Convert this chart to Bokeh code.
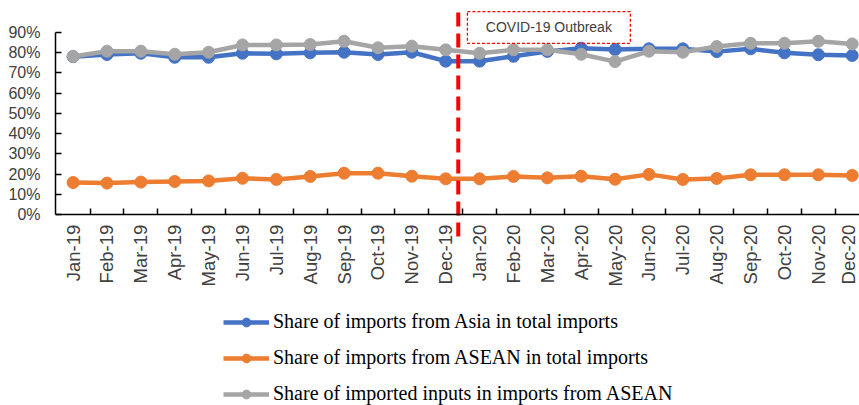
from bokeh.plotting import figure
from bokeh.models import (ColumnDataSource, Range1d, FixedTicker, NumeralTickFormatter,
                          Legend, LegendItem, Label)
from bokeh.embed import file_html
from bokeh.resources import INLINE

months = ["Jan-19", "Feb-19", "Mar-19", "Apr-19", "May-19", "Jun-19", "Jul-19", "Aug-19",
          "Sep-19", "Oct-19", "Nov-19", "Dec-19", "Jan-20", "Feb-20", "Mar-20", "Apr-20",
          "May-20", "Jun-20", "Jul-20", "Aug-20", "Sep-20", "Oct-20", "Nov-20", "Dec-20"]

asia_share = [0.779, 0.790, 0.796, 0.776, 0.776, 0.796, 0.793, 0.798,
              0.801, 0.790, 0.801, 0.757, 0.757, 0.781, 0.805, 0.821,
              0.814, 0.818, 0.818, 0.804, 0.818, 0.798, 0.789, 0.785]

asean_share = [0.159, 0.156, 0.161, 0.164, 0.167, 0.180, 0.174, 0.189,
               0.205, 0.205, 0.190, 0.177, 0.177, 0.189, 0.182, 0.190,
               0.175, 0.199, 0.174, 0.179, 0.197, 0.197, 0.197, 0.194]

inputs_share = [0.780, 0.806, 0.806, 0.791, 0.801, 0.837, 0.837, 0.839,
                0.855, 0.823, 0.831, 0.813, 0.796, 0.813, 0.813, 0.791,
                0.755, 0.806, 0.801, 0.829, 0.845, 0.845, 0.855, 0.842]

y_ticks = [0.0, 0.1, 0.2, 0.3, 0.4, 0.5, 0.6, 0.7, 0.8, 0.9]

# break between Dec-19 and Jan-20 marking the outbreak
outbreak_x = 11.37
outbreak_label = "COVID-19 Outbreak"

idx = list(range(len(months)))
src = ColumnDataSource(dict(x=idx, asia=asia_share, asean=asean_share, inputs=inputs_share))

p = figure(width=859, height=405, output_backend="svg", toolbar_location=None,
           x_range=Range1d(-0.52, 23.215), y_range=Range1d(-0.94, 1.056),
           min_border_left=55, min_border_right=0, min_border_top=0, min_border_bottom=0)
p.outline_line_color = None
p.background_fill_color = "white"
p.border_fill_color = "white"
p.grid.visible = False

# x axis sits at 0% with category labels centred and ticks at band edges
xa = p.xaxis[0]
xa.fixed_location = 0
xa.bounds = (-0.52, 23.215)
xa.ticker = FixedTicker(ticks=idx, minor_ticks=[i + 0.5 for i in idx])
xa.major_label_overrides = {i: m for i, m in enumerate(months)}
xa.major_label_orientation = 3.14159265 / 2
xa.major_label_standoff = 10
xa.major_tick_in = 0
xa.major_tick_out = 0
xa.minor_tick_in = 6
xa.minor_tick_out = 0
xa.minor_tick_line_color = "black"
xa.minor_tick_line_width = 1.5
xa.axis_line_color = "black"
xa.axis_line_width = 1.5
xa.major_label_text_font = "Liberation Sans"
xa.major_label_text_font_size = "18.5px"
xa.major_label_text_color = "#404040"

ya = p.yaxis[0]
ya.bounds = (0, 0.9)
ya.ticker = FixedTicker(ticks=y_ticks)
ya.formatter = NumeralTickFormatter(format="0%")
ya.major_tick_in = 6
ya.major_tick_out = 0
ya.minor_tick_line_color = None
ya.major_tick_line_color = "black"
ya.major_tick_line_width = 1.5
ya.axis_line_color = "black"
ya.axis_line_width = 1.5
ya.major_label_standoff = 15
ya.major_label_text_font = "Liberation Sans"
ya.major_label_text_font_size = "16px"
ya.major_label_text_color = "#404040"

series = [
    ("asia", "#4472C4", "Share of imports from Asia in total imports"),
    ("asean", "#ED7D31", "Share of imports from ASEAN in total imports"),
    ("inputs", "#A5A5A5", "Share of imported inputs in imports from ASEAN"),
]

items = []
for col, color, name in series:
    ln = p.line("x", col, source=src, line_color=color, line_width=4.5)
    sc = p.scatter("x", col, source=src, size=12, fill_color=color, line_color=color)
    items.append(LegendItem(label=name, renderers=[ln, sc]))

# outbreak marker: dashed red vertical and a dashed label box
p.segment(x0=[outbreak_x], y0=[0.997], x1=[outbreak_x], y1=[-0.141],
          line_color="#FF0000", line_width=4, line_dash="14 7")
p.quad(left=[11.64], right=[16.45], top=[1.001], bottom=[0.845],
       fill_color=None, line_color="#FF0000", line_width=1.3, line_dash="3 2")
p.add_layout(Label(x=14.045, y=0.923, text=outbreak_label, text_align="center",
                   text_baseline="middle", text_font="Liberation Sans",
                   text_font_size="14px", text_color="#404040"))

legend = Legend(items=items, location=(168, 0), orientation="vertical",
                glyph_width=46, glyph_height=22, label_height=22, spacing=13,
                label_standoff=4, padding=0, margin=0,
                border_line_color=None, background_fill_alpha=0,
                label_text_font="Liberation Serif", label_text_font_size="20px",
                label_text_color="black")
p.add_layout(legend)

open("out.html", "w").write(file_html(p, INLINE))
